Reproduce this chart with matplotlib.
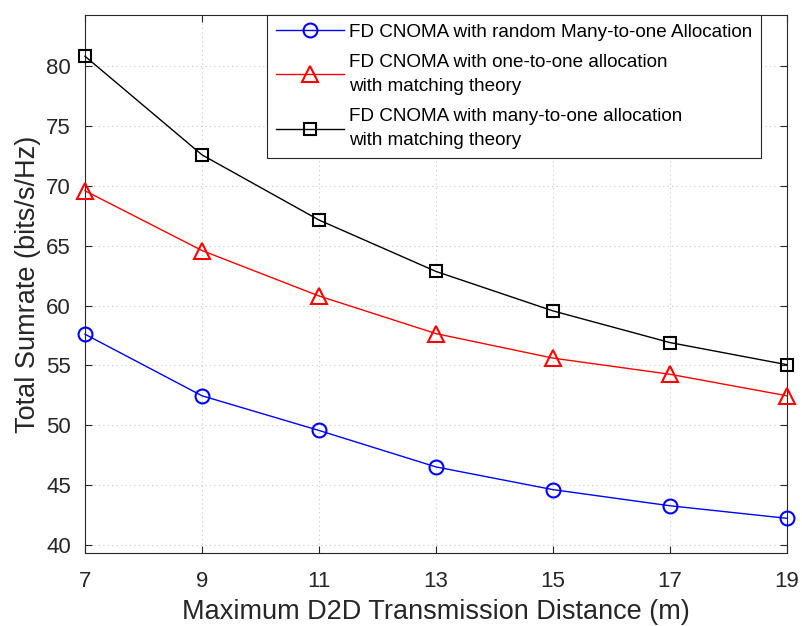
import numpy as np
import matplotlib
matplotlib.use('Agg')
import matplotlib.pyplot as plt

#%% data
distance      = [7, 9, 11, 13, 15, 17, 19]
random_m2o    = [57.6, 52.45, 49.55, 46.5, 44.6, 43.25, 42.2]
matching_o2o  = [69.6, 64.6, 60.8, 57.65, 55.6, 54.25, 52.45]
matching_m2o  = [80.85, 72.6, 67.15, 62.85, 59.55, 56.9, 55.05]

labels = ['FD CNOMA with random Many-to-one Allocation',
          'FD CNOMA with one-to-one allocation\nwith matching theory',
          'FD CNOMA with many-to-one allocation\nwith matching theory']

plt.rcParams['font.family'] = ['Liberation Sans', 'DejaVu Sans']
dark = '#262626'

fig = plt.figure(figsize=(8.02, 6.26), dpi=100)
ax  = fig.add_axes([85/802, 73/626, 702/802, 538/626])

ax.plot(distance, random_m2o,   '-o', c='b', lw=1, ms=10, mfc='none', mew=1.5, label=labels[0], clip_on=False, zorder=3)
ax.plot(distance, matching_o2o, '-^', c='r', lw=1, ms=12, mfc='none', mew=1.5, label=labels[1], clip_on=False, zorder=3)
ax.plot(distance, matching_m2o, '-s', c='k', lw=1, ms=8,  mfc='none', mew=1.5, label=labels[2], clip_on=False, zorder=3)

ax.set_xlim(7, 19)
ax.set_ylim(39.3, 84.3)
ax.set_xticks(distance)
ax.set_yticks(np.arange(40, 81, 5))
ax.grid(True, ls=(0, (1, 3)), color='#c8c8c8', lw=0.8)
ax.tick_params(direction='in', length=5, width=0.8, colors=dark, labelsize=16,
               top=True, right=True)
ax.tick_params(axis='x', pad=13)
ax.tick_params(axis='y', pad=10)
for sp in ax.spines.values():
    sp.set_color(dark)
    sp.set_linewidth(0.8)

ax.set_xlabel('Maximum D2D Transmission Distance (m)', fontsize=19.5, color=dark, labelpad=5)
ax.set_ylabel('Total Sumrate (bits/s/Hz)', fontsize=19.5, color=dark, labelpad=4)

leg = ax.legend(loc='upper left', bbox_to_anchor=(267/802, 1 - 15/626), bbox_transform=fig.transFigure,
                fontsize=13.6, frameon=True, fancybox=False, edgecolor=dark, framealpha=1,
                handlelength=3.6, handletextpad=0.3, labelspacing=0.7, borderpad=0.45,
                borderaxespad=0)
leg.get_frame().set_linewidth(0.8)
for t in leg.get_texts():
    t.set_linespacing(1.55)

fig.savefig('out.png', dpi=100)
